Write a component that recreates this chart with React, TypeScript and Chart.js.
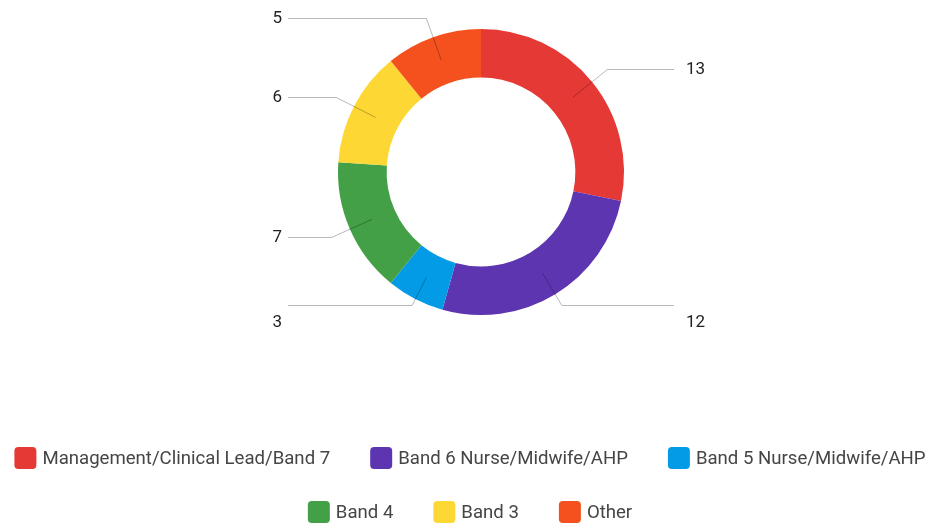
import React, { useEffect, useRef } from "react";
import { Chart, ArcElement, DoughnutController } from "chart.js";

Chart.register(ArcElement, DoughnutController);

const categories = [
  "Management/Clinical Lead/Band 7",
  "Band 6 Nurse/Midwife/AHP",
  "Band 5 Nurse/Midwife/AHP",
  "Band 4",
  "Band 3",
  "Other",
];
const counts = [13, 12, 3, 7, 6, 5];
const colors = ["#E53935", "#5E35B1", "#039BE5", "#43A047", "#FDD835", "#F4511E"];

const FONT = "Roboto, 'Liberation Sans', Arial, sans-serif";

const leaderLabels = {
  id: "leaderLabels",
  afterDatasetsDraw(chart: any) {
    const ctx = chart.ctx as CanvasRenderingContext2D;
    const meta = chart.getDatasetMeta(0);
    const values = chart.data.datasets[0].data as number[];
    meta.data.forEach((arc: any, i: number) => {
      const p = arc.getProps(["x", "y", "startAngle", "endAngle", "innerRadius", "outerRadius"], true);
      const a = (p.startAngle + p.endAngle) / 2;
      const cos = Math.cos(a);
      const sin = Math.sin(a);
      const rm = (p.innerRadius + p.outerRadius) / 2;
      const ax = p.x + cos * rm;
      const ay = p.y + sin * rm;
      let re = p.outerRadius + 20;
      const maxDy = p.outerRadius - 10;
      if (sin * re > maxDy) re = maxDy / sin;
      const ex = p.x + cos * re;
      const ey = Math.round(p.y + sin * re) + 0.5;
      const right = cos >= 0;
      const hx = right ? p.x + p.outerRadius + 50 : p.x - p.outerRadius - 50;
      ctx.save();
      ctx.strokeStyle = "rgba(0,0,0,0.28)";
      ctx.lineWidth = 1;
      ctx.beginPath();
      ctx.moveTo(ax, ay);
      ctx.lineTo(ex, ey);
      ctx.lineTo(hx, ey);
      ctx.stroke();
      ctx.font = `17px ${FONT}`;
      ctx.fillStyle = "#222222";
      ctx.textBaseline = "middle";
      const ty = sin > 0.7 ? ey + 17 : ey;
      if (right) {
        ctx.textAlign = "left";
        ctx.fillText(String(values[i]), hx + 12, ty);
      } else {
        ctx.textAlign = "right";
        ctx.fillText(String(values[i]), hx - 6, ty);
      }
      ctx.restore();
    });
  },
};

const customLegend = {
  id: "customLegend",
  afterDraw(chart: any) {
    const ctx = chart.ctx as CanvasRenderingContext2D;
    const labels = chart.data.labels as string[];
    const bg = chart.data.datasets[0].backgroundColor as string[];
    const box = 22;
    const textGap = 6;
    const itemGap = 40;
    const maxRow = 930;
    const centerX = 470;
    const firstRowY = 458;
    const rowStep = 54;
    ctx.save();
    ctx.font = `18.6px ${FONT}`;
    const items = labels.map((t, i) => ({ t, c: bg[i], w: box + textGap + ctx.measureText(t).width }));
    const rows: any[][] = [[]];
    let cur = 0;
    items.forEach((it) => {
      const row = rows[rows.length - 1];
      const add = row.length ? itemGap + it.w : it.w;
      if (row.length && cur + add > maxRow) {
        rows.push([it]);
        cur = it.w;
      } else {
        row.push(it);
        cur += add;
      }
    });
    rows.forEach((row, r) => {
      const total = row.reduce((s, it, k) => s + it.w + (k ? itemGap : 0), 0);
      let x = centerX - total / 2;
      const cy = firstRowY + r * rowStep;
      row.forEach((it) => {
        ctx.fillStyle = it.c;
        ctx.beginPath();
        (ctx as any).roundRect(x, cy - box / 2, box, box, 4);
        ctx.fill();
        ctx.fillStyle = "#454545";
        ctx.textAlign = "left";
        ctx.textBaseline = "middle";
        ctx.fillText(it.t, x + box + textGap, cy + 1);
        x += it.w + itemGap;
      });
    });
    ctx.restore();
  },
};

export default function App() {
  const ref = useRef<HTMLCanvasElement | null>(null);
  useEffect(() => {
    if (!ref.current) return;
    const chart = new Chart(ref.current, {
      type: "doughnut",
      data: {
        labels: categories,
        datasets: [
          {
            data: counts,
            backgroundColor: colors,
            borderWidth: 0,
          },
        ],
      },
      options: {
        responsive: false,
        animation: false,
        devicePixelRatio: 1,
        cutout: "66%",
        layout: { padding: { left: 14, right: 0, top: 29, bottom: 210 } },
        plugins: {
          legend: { display: false },
          tooltip: { enabled: false },
        },
      },
      plugins: [leaderLabels, customLegend],
    });
    if ((document as any).fonts && (document as any).fonts.load) {
      (document as any).fonts.load(`18px Roboto`).then(() => chart.update()).catch(() => {});
    }
    return () => chart.destroy();
  }, []);
  return (
    <div style={{ position: "fixed", left: 0, top: 0, width: 948, height: 525, background: "#fff" }}>
      <canvas ref={ref} width={948} height={525} />
    </div>
  );
}
